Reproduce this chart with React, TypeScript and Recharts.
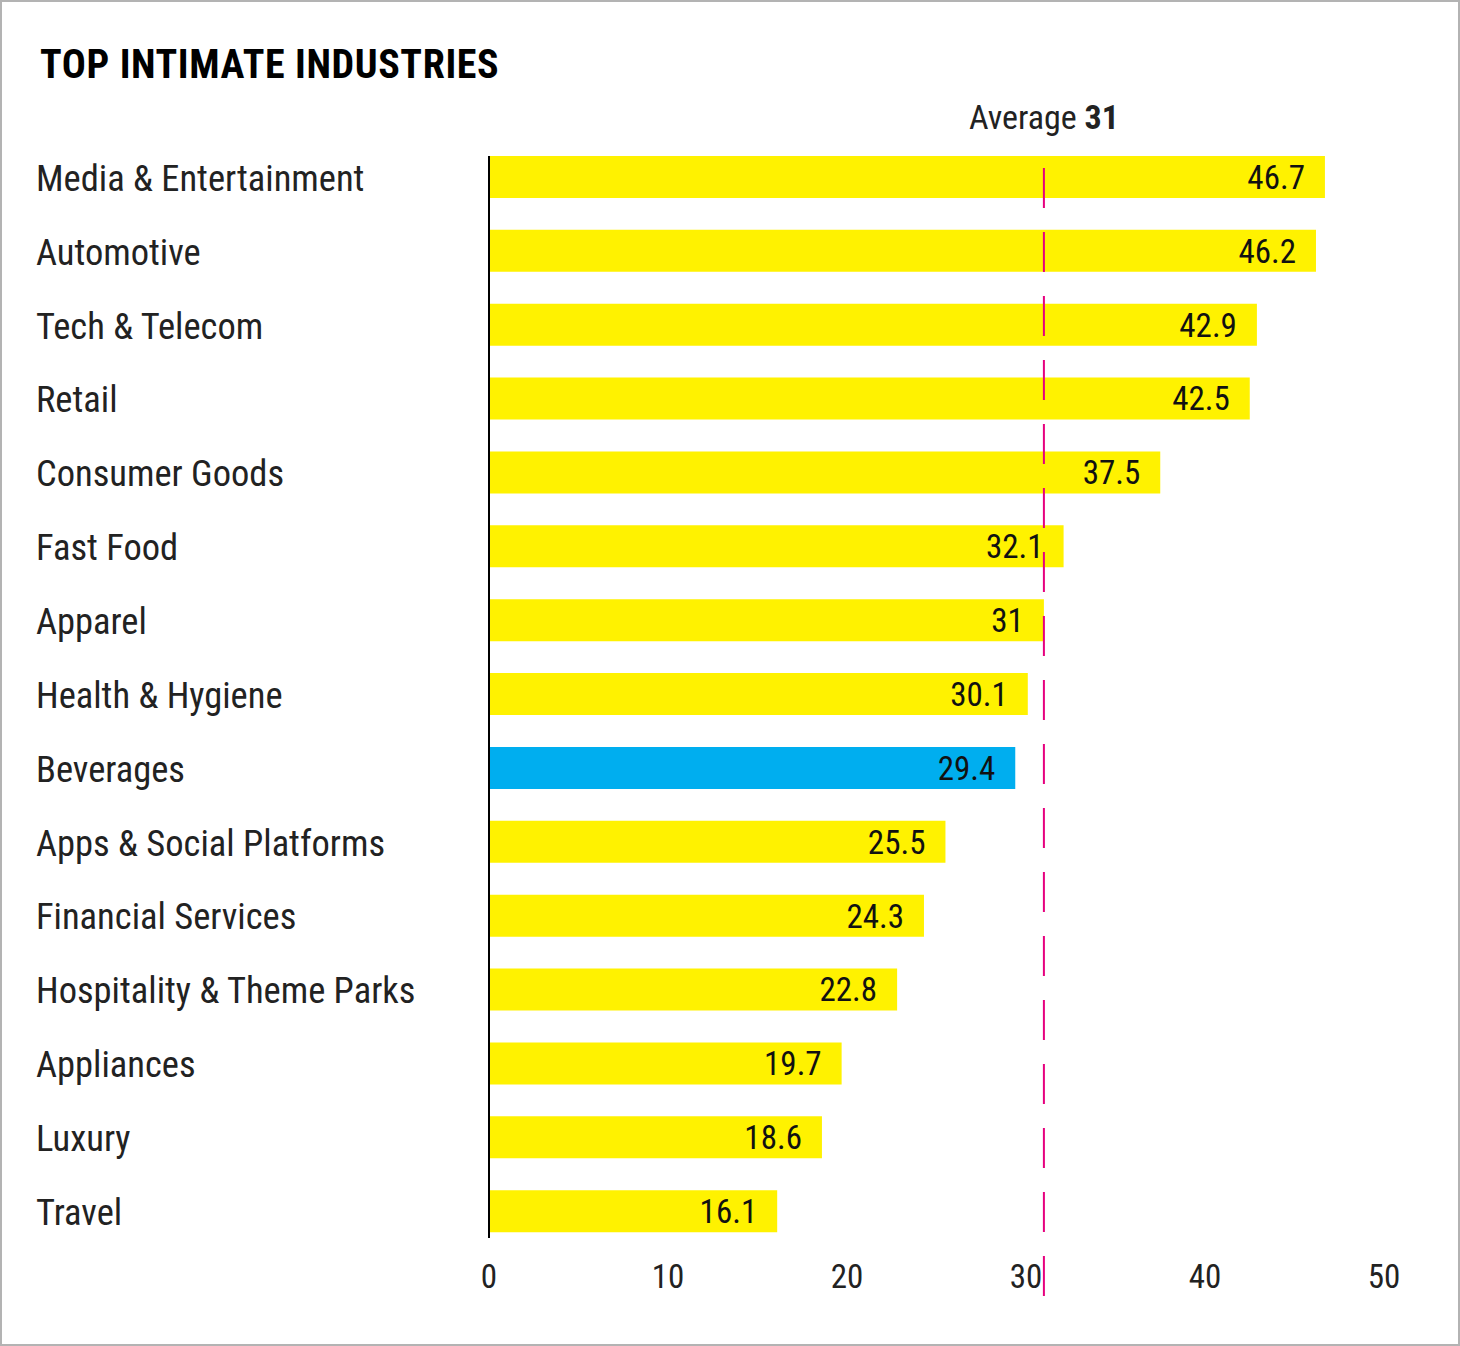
import React from 'react';
import { BarChart, Bar, XAxis, YAxis, Cell, LabelList, ReferenceLine } from 'recharts';

const industries = [
  'Media & Entertainment',
  'Automotive',
  'Tech & Telecom',
  'Retail',
  'Consumer Goods',
  'Fast Food',
  'Apparel',
  'Health & Hygiene',
  'Beverages',
  'Apps & Social Platforms',
  'Financial Services',
  'Hospitality & Theme Parks',
  'Appliances',
  'Luxury',
  'Travel',
];

const scores = [46.7, 46.2, 42.9, 42.5, 37.5, 32.1, 31, 30.1, 29.4, 25.5, 24.3, 22.8, 19.7, 18.6, 16.1];

const highlighted = 'Beverages';
const average = 31;
const xTicks = [0, 10, 20, 30, 40, 50];

const FONT = 'Roboto, "Open Sans", sans-serif';
const COND = { fontStretch: 'condensed' as const };
const YELLOW = '#fff200';
const BLUE = '#00aeef';
const MAGENTA = '#e6007e';

const data = industries.map((name, i) => ({ name, score: scores[i] }));

const CategoryTick = (props: any) => {
  const { x, y, payload } = props;
  return (
    <text x={x - 445} y={y} dy="0.38em" textAnchor="start" fontFamily={FONT} fontSize={36.5} fill="#222" style={COND}>
      {payload.value}
    </text>
  );
};

const ValueTick = (props: any) => {
  const { x, y, payload } = props;
  return (
    <text x={x} y={y + 40} textAnchor="middle" fontFamily={FONT} fontSize={33} fill="#222" style={COND}>
      {payload.value}
    </text>
  );
};

const BarValue = (props: any) => {
  const { x, y, width, height, value } = props;
  return (
    <text
      x={x + width - 20}
      y={y + height / 2}
      dy="0.36em"
      textAnchor="end"
      fontFamily={FONT}
      fontSize={33}
      fill="#111"
      style={COND}
    >
      {value}
    </text>
  );
};

// zero line: a bit shorter than the plot area
const ZeroLine = (props: any) => {
  const { x1, y1, y2 } = props;
  const top = Math.min(y1, y2);
  const bottom = Math.max(y1, y2);
  return <line x1={x1} x2={x1} y1={top + 16} y2={bottom - 10} stroke="#000" strokeWidth={2} />;
};

// dashed average line, stretched past the plot area like the original
const AverageLine = (props: any) => {
  const { x1, y1, y2 } = props;
  const top = Math.min(y1, y2);
  const bottom = Math.max(y1, y2);
  return (
    <g>
      <line
        x1={x1}
        x2={x1}
        y1={top + 28}
        y2={bottom + 48}
        stroke={MAGENTA}
        strokeWidth={2}
        strokeDasharray="40 24"
      />
      <text x={x1} y={top - 11} textAnchor="middle" fontFamily={FONT} fontSize={34} fill="#222" style={COND}>
        Average <tspan fontWeight="bold">{average}</tspan>
      </text>
    </g>
  );
};

const App: React.FC = () => {
  return (
    <div style={{ position: 'absolute', left: 0, top: 0, width: 1460, height: 1346, background: '#fff' }}>
      <BarChart
        width={1460}
        height={1346}
        data={data}
        layout="vertical"
        margin={{ top: 140, right: 76, bottom: 38, left: 7 }}
        barSize={42}
      >
        <XAxis
          type="number"
          domain={[0, 50]}
          ticks={xTicks}
          axisLine={false}
          tickLine={false}
          tickSize={0}
          tickMargin={0}
          height={60}
          tick={<ValueTick />}
          interval={0}
        />
        <YAxis
          type="category"
          dataKey="name"
          width={482}
          axisLine={false}
          tickLine={false}
          tick={<CategoryTick />}
          interval={0}
        />
        <Bar dataKey="score" isAnimationActive={false}>
          {data.map((d) => (
            <Cell key={d.name} fill={d.name === highlighted ? BLUE : YELLOW} />
          ))}
          <LabelList dataKey="score" content={<BarValue />} />
        </Bar>
        <ReferenceLine x={0} ifOverflow="visible" shape={<ZeroLine />} />
        <ReferenceLine x={average} ifOverflow="visible" shape={<AverageLine />} />
      </BarChart>
      <div
        style={{
          position: 'absolute',
          left: 40,
          top: 41,
          fontFamily: FONT,
          fontStretch: 'condensed',
          fontWeight: 'bold',
          fontSize: 40,
          letterSpacing: 0.6,
          lineHeight: '48px',
          color: '#000',
        }}
      >
        TOP INTIMATE INDUSTRIES
      </div>
      <div
        style={{
          position: 'absolute',
          inset: 0,
          border: '2px solid #b3b3b3',
          boxSizing: 'border-box',
          pointerEvents: 'none',
        }}
      />
    </div>
  );
};

export default App;
